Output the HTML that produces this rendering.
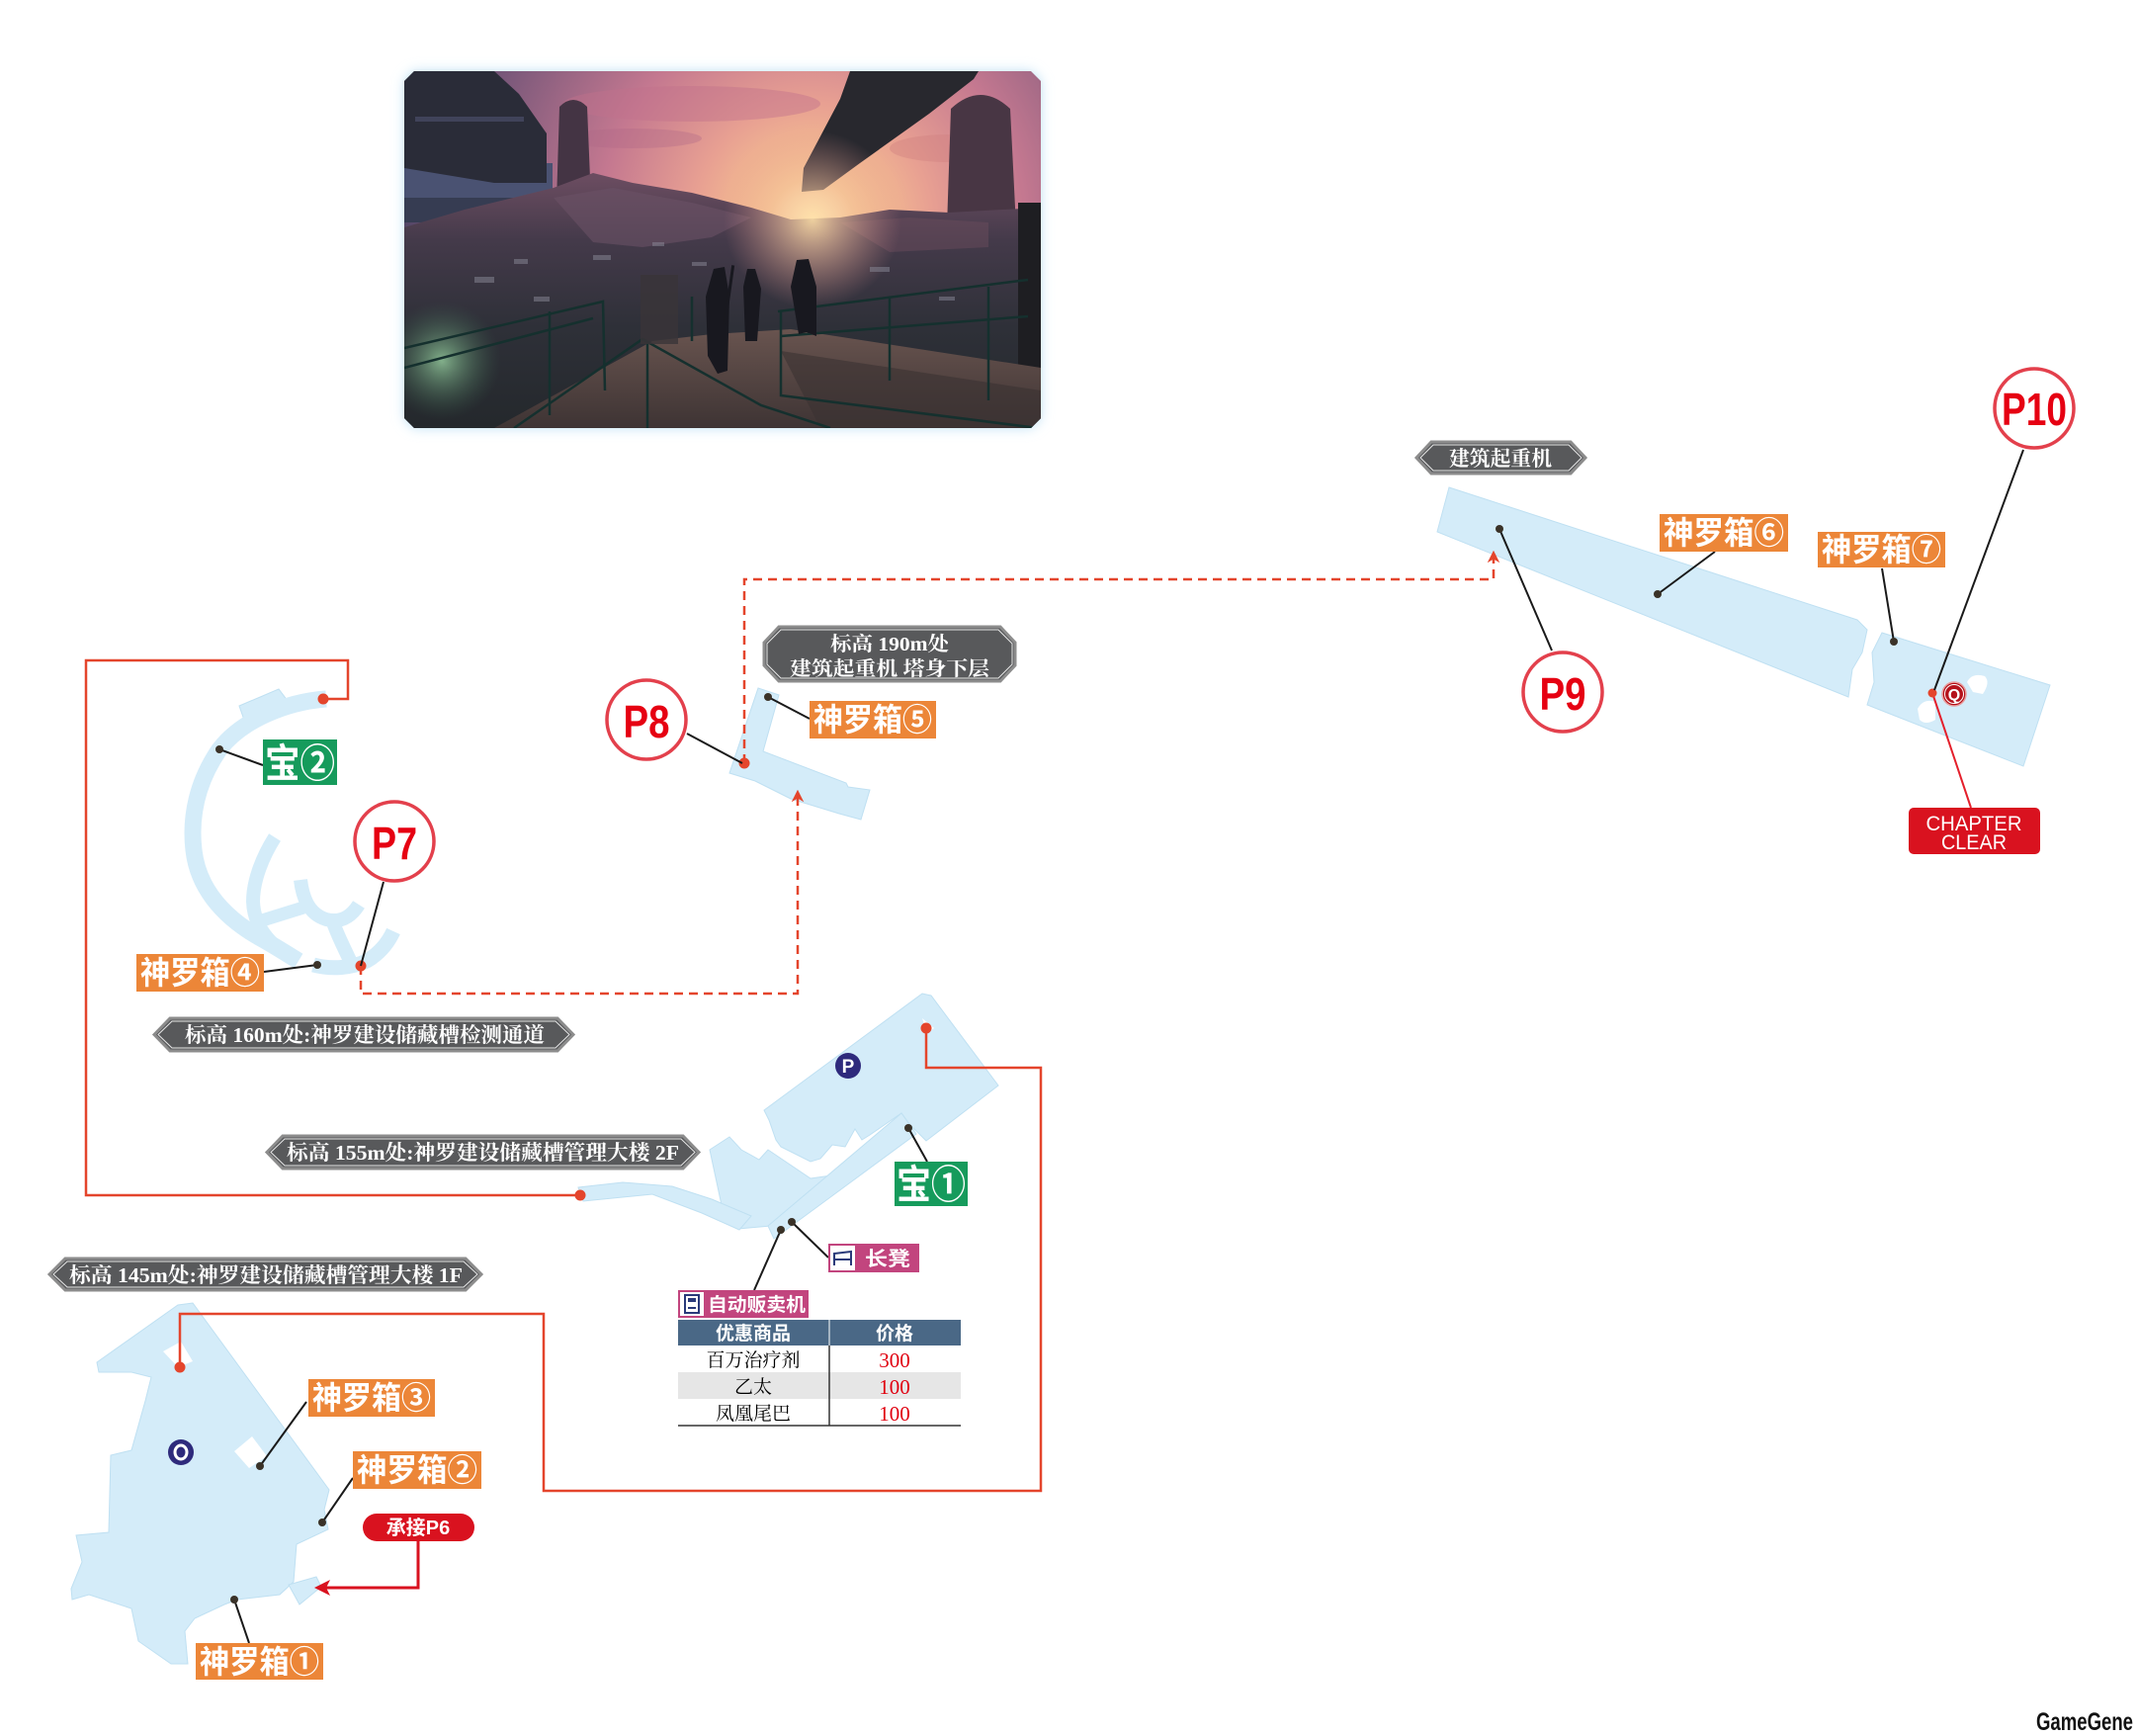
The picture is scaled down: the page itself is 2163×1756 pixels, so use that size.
<!DOCTYPE html>
<html><head><meta charset="utf-8">
<style>
html,body{margin:0;padding:0;background:#fff;}
svg{display:block;}
.sans{font-family:"Liberation Sans","Noto Sans CJK SC",sans-serif;}
.serif{font-family:"Liberation Serif","Noto Serif CJK SC",serif;}
</style></head><body>
<svg width="2163" height="1756" viewBox="0 0 2163 1756" xmlns="http://www.w3.org/2000/svg">
<defs>
  <clipPath id="pc"><polygon points="419,72 1043,72 1053,82 1053,423 1043,433 419,433 409,423 409,82"/></clipPath>
  <filter id="blur6" x="-10%" y="-10%" width="120%" height="120%"><feGaussianBlur stdDeviation="6"/></filter>
  <filter id="blur2"><feGaussianBlur stdDeviation="2"/></filter>
  <radialGradient id="sky" cx="822" cy="225" r="430" gradientUnits="userSpaceOnUse">
    <stop offset="0" stop-color="#fff2bf"/>
    <stop offset="0.1" stop-color="#f8c890"/>
    <stop offset="0.28" stop-color="#e8a092"/>
    <stop offset="0.5" stop-color="#c47890"/>
    <stop offset="0.8" stop-color="#7a587a"/>
    <stop offset="1" stop-color="#4a4262"/>
  </radialGradient>
  <linearGradient id="ground" x1="0" y1="180" x2="0" y2="433" gradientUnits="userSpaceOnUse">
    <stop offset="0" stop-color="#6a4c60"/>
    <stop offset="0.25" stop-color="#443a4a"/>
    <stop offset="0.6" stop-color="#2e3038"/>
    <stop offset="1" stop-color="#24282c"/>
  </linearGradient>
  <linearGradient id="walk" x1="0" y1="330" x2="0" y2="433" gradientUnits="userSpaceOnUse">
    <stop offset="0" stop-color="#6a5550"/>
    <stop offset="1" stop-color="#3e3434"/>
  </linearGradient>
  <radialGradient id="greenglow" cx="447" cy="365" r="60" gradientUnits="userSpaceOnUse">
    <stop offset="0" stop-color="#a8e8b0" stop-opacity="0.7"/>
    <stop offset="1" stop-color="#3a6a50" stop-opacity="0"/>
  </radialGradient>
  <radialGradient id="sunglow" cx="822" cy="222" r="90" gradientUnits="userSpaceOnUse">
    <stop offset="0" stop-color="#ffe0a8" stop-opacity="0.9"/>
    <stop offset="1" stop-color="#e09090" stop-opacity="0"/>
  </radialGradient>
  <marker id="arrR" viewBox="0 0 10 10" refX="9" refY="5" markerWidth="5" markerHeight="5" orient="auto">
    <path d="M0,0 L10,5 L0,10 L3,5 z" fill="#e4452c"/>
  </marker>
</defs>

<!-- ================= PHOTO ================= -->
<polygon points="419,72 1043,72 1053,82 1053,423 1043,433 419,433 409,423 409,82" fill="#bfe2f6" filter="url(#blur6)"/>
<g clip-path="url(#pc)">
  <rect x="409" y="72" width="644" height="361" fill="url(#sky)"/>
  <ellipse cx="700" cy="105" rx="130" ry="18" fill="#c0708c" opacity="0.45"/>
  <ellipse cx="640" cy="140" rx="70" ry="10" fill="#b06888" opacity="0.35"/>
  <ellipse cx="960" cy="150" rx="60" ry="14" fill="#d08080" opacity="0.4"/>
  <!-- left lower blue sky band -->
  <rect x="409" y="165" width="150" height="58" fill="#4a5272"/>
  <rect x="409" y="200" width="150" height="25" fill="#363c52"/>
  <!-- left structure -->
  <polygon points="409,72 500,72 525,95 553,135 553,185 500,185 409,170" fill="#2a2c38"/>
  <rect x="420" y="118" width="110" height="5" fill="#40435a"/>
  <!-- left tower -->
  <path d="M563,205 L566,108 Q580,94 594,108 L598,205 Z" fill="#443444"/>
  <!-- right tower -->
  <path d="M958,230 L962,110 Q992,82 1022,110 L1028,230 Z" fill="#483644"/>
  <!-- right crane -->
  <polygon points="860,72 990,72 985,80 940,115 870,165 833,192 811,194 813,170 850,100" fill="#28282e"/>
  <!-- rubble hill -->
  <path d="M409,230 L470,212 L560,190 L600,175 L640,185 L700,195 L760,210 L800,222 L850,220 L900,212 L960,215 L1053,210 L1053,433 L409,433 Z" fill="url(#ground)"/>
  <path d="M560,200 L620,190 L700,205 L760,220 L720,240 L650,250 L600,245 Z" fill="#6a5266" opacity="0.6"/>
  <path d="M850,225 L920,220 L1000,225 L1000,250 L900,255 Z" fill="#6a4c5c" opacity="0.5"/>
  <rect x="409" y="72" width="644" height="361" fill="url(#sunglow)"/>
  <!-- speckles -->
  <g fill="#8a8a98" opacity="0.5">
    <rect x="480" y="280" width="20" height="6"/><rect x="520" y="262" width="14" height="5"/>
    <rect x="600" y="258" width="18" height="5"/><rect x="660" y="245" width="12" height="4"/>
    <rect x="540" y="300" width="16" height="5"/><rect x="700" y="265" width="15" height="4"/>
    <rect x="880" y="270" width="20" height="5"/><rect x="950" y="300" width="16" height="4"/>
  </g>
  <!-- right edge dark -->
  <rect x="1030" y="205" width="23" height="228" fill="#1e1e22"/>
  <!-- walkway -->
  <polygon points="500,433 660,345 720,338 800,333 1053,372 1053,433" fill="url(#walk)"/>
  <polygon points="790,355 1053,395 1053,433 830,433" fill="#3a3232" opacity="0.6"/>
  <rect x="409" y="72" width="644" height="361" fill="url(#greenglow)"/>
  <!-- railings -->
  <g stroke="#15302e" stroke-width="2.5" fill="none">
    <polyline points="409,352 610,305 612,395"/>
    <polyline points="409,372 600,322"/>
    <polyline points="520,433 650,343 770,410 840,433"/>
    <polyline points="655,345 655,433"/>
    <polyline points="787,315 1040,283"/>
    <polyline points="790,315 790,400 1050,433"/>
    <polyline points="790,340 1040,320"/>
    <polyline points="900,300 900,385"/>
    <polyline points="1000,290 1000,405"/>
    <polyline points="700,300 700,345"/>
    <polyline points="556,315 556,420"/>
  </g>
  <!-- figures -->
  <g fill="#18181f">
    <path d="M714,300 L722,272 L733,270 L738,300 L736,375 L726,378 L716,360 Z"/>
    <rect x="736" y="268" width="3" height="60" transform="rotate(8 737 298)"/>
    <path d="M752,290 L756,272 L764,272 L770,292 L766,345 L754,345 Z"/>
    <path d="M800,290 L806,263 L818,262 L826,290 L826,340 L816,336 L808,338 Z"/>
  </g>
  <!-- tower pillar mid -->
  <rect x="648" y="278" width="38" height="70" fill="#3a3438" opacity="0.8"/>
</g>

<!-- ================= MAP FILLS ================= -->
<g fill="#d4ecf9" stroke="#bfe0f2" stroke-width="1">
  <polygon points="1466,493 1879,627 1889,637 1884,660 1874,677 1870,705 1454,538"/>
  <polygon points="1904,640 2074,693 2047,775 1889,713 1896,690 1894,660"/>
  <polygon points="767,696 788,703 772,760 856,792 858,796 880,799 871,829 849,823 800,808 764,790 738,782"/>
  <polygon points="773,1123 933,1005 942,1007 1010,1098 937,1154 920,1137 912,1126 880,1148 872,1153 865,1142 855,1160 842,1158 830,1172 820,1175 790,1160 785,1153 778,1133"/>
  <polygon points="718,1163 738,1150 750,1163 768,1173 777,1163 820,1192 848,1188 780,1240 747,1243 733,1233"/>
  <polygon points="777,1240 912,1126 927,1147 783,1253"/>
  <polygon points="585,1201 630,1196 680,1200 720,1213 760,1230 748,1244 710,1227 660,1208 590,1215"/>
  <polygon points="98,1378 180,1320 195,1318 333,1507 328,1527 332,1547 300,1562 297,1600 283,1613 240,1618 227,1623 197,1637 187,1650 190,1683 173,1683 140,1660 133,1627 90,1613 73,1618 72,1607 83,1580 77,1553 110,1550 112,1472 133,1467 147,1417 153,1393 133,1388 100,1388"/>
  <polygon points="292,1603 320,1595 325,1605 303,1623"/>
  <polygon points="242,714 282,697 291,709 248,731"/>
</g>
<!-- holes -->
<g fill="#fff">
  <polygon points="165,1367 183,1357 195,1377 180,1383"/>
  <polygon points="237,1468 255,1453 270,1473 252,1485"/>
  <path d="M1990,690 Q1995,680 2008,684 Q2014,690 2006,702 L1996,700 Z"/>
  <path d="M1940,717 Q1946,706 1958,710 L1958,728 Q1948,734 1942,728 Z"/>
  <polygon points="933,1030 945,1040 938,1045"/>
</g>
<!-- P7 arcs (stroked) -->
<g fill="none" stroke="#d4ecf9" stroke-linecap="butt">
  <path d="M330,707 C290,710 245,728 222,758 C200,790 192,825 196,860 C200,895 222,925 262,948 C280,958 292,966 302,972" stroke-width="17"/>
  <path d="M278,847 C266,866 256,890 256,912 C257,937 272,956 298,970" stroke-width="14"/>
  <path d="M262,932 L307,918" stroke-width="13"/>
  <path d="M304,890 C306,906 311,924 330,930 C346,934 356,926 363,915" stroke-width="14"/>
  <path d="M336,930 C341,946 350,962 356,976" stroke-width="14"/>
  <path d="M317,976 C336,981 356,979 371,972 C383,965 392,955 398,942" stroke-width="15"/>
</g>

<!-- ================= RED ROUTES ================= -->
<g fill="none" stroke="#e4452c" stroke-width="2.5">
  <polyline points="182,1383 182,1329 550,1329 550,1508 1053,1508 1053,1080 937,1080 937,1040"/>
  <polyline points="587,1209 87,1209 87,668 352,668 352,707 327,707"/>
  <polyline points="365,977 365,1005 807,1005 807,800" stroke-dasharray="9,6" marker-end="url(#arrR)"/>
  <polyline points="753,772 753,586 1511,586 1511,558" stroke-dasharray="9,6" marker-end="url(#arrR)"/>
</g>
<line x1="1955" y1="701" x2="1994" y2="817" stroke="#e4202c" stroke-width="2"/>
<polyline points="423,1559 423,1606 328,1606" fill="none" stroke="#d9121f" stroke-width="3"/>
<polygon points="318,1606 334,1598 330,1606 334,1614" fill="#d9121f"/>
<g fill="#e4452c">
  <circle cx="182" cy="1383" r="5.5"/>
  <circle cx="937" cy="1040" r="5.5"/>
  <circle cx="587" cy="1209" r="5.5"/>
  <circle cx="327" cy="707" r="5.5"/>
  <circle cx="365" cy="977" r="5.5"/>
  <circle cx="753" cy="772" r="5.5"/>
  <circle cx="1955" cy="701" r="4.5"/>
</g>

<!-- ================= CONNECTOR LINES ================= -->
<g stroke="#1a1a1a" stroke-width="2" fill="none">
  <line x1="2047" y1="455" x2="1957" y2="698"/>
  <line x1="1570" y1="658" x2="1517" y2="535"/>
  <line x1="1677" y1="601" x2="1735" y2="558"/>
  <line x1="1916" y1="649" x2="1904" y2="575"/>
  <line x1="695" y1="742" x2="751" y2="772"/>
  <line x1="777" y1="705" x2="819" y2="727"/>
  <line x1="222" y1="758" x2="266" y2="774"/>
  <line x1="388" y1="892" x2="365" y2="977"/>
  <line x1="321" y1="976" x2="267" y2="983"/>
  <line x1="919" y1="1141" x2="938" y2="1175"/>
  <line x1="801" y1="1236" x2="838" y2="1272"/>
  <line x1="790" y1="1244" x2="763" y2="1305"/>
  <line x1="263" y1="1483" x2="310" y2="1418"/>
  <line x1="326" y1="1540" x2="357" y2="1495"/>
  <line x1="237" y1="1618" x2="252" y2="1662"/>
</g>
<g fill="#3a3228">
  <circle cx="1517" cy="535" r="4"/>
  <circle cx="1677" cy="601" r="4"/>
  <circle cx="1916" cy="649" r="4"/>
  <circle cx="777" cy="705" r="4"/>
  <circle cx="222" cy="758" r="4"/>
  <circle cx="321" cy="976" r="4"/>
  <circle cx="919" cy="1141" r="4"/>
  <circle cx="801" cy="1236" r="4"/>
  <circle cx="790" cy="1244" r="4"/>
  <circle cx="263" cy="1483" r="4"/>
  <circle cx="326" cy="1540" r="4"/>
  <circle cx="237" cy="1618" r="4"/>
</g>

<!-- ================= MARKERS ================= -->
<circle cx="858" cy="1078" r="13" fill="#2e2a7c"/>
<text x="858" y="1085" text-anchor="middle" class="sans" font-size="19" font-weight="bold" fill="#fff">P</text>
<circle cx="183" cy="1469" r="13" fill="#2e2a7c"/>
<ellipse cx="183" cy="1469" rx="6" ry="7" fill="none" stroke="#fff" stroke-width="3"/>
<circle cx="1977" cy="702" r="12" fill="#b5121b" stroke="#e8a0a0" stroke-width="1.5"/>
<circle cx="1977" cy="702" r="9.5" fill="none" stroke="#fff" stroke-width="1"/>
<text x="1977" y="708" text-anchor="middle" class="sans" font-size="16" font-weight="bold" fill="#fff">Q</text>

<!-- ================= P CIRCLES ================= -->
<g fill="#fff" stroke="#e3404c" stroke-width="3.5">
  <circle cx="2058" cy="413" r="40"/>
  <circle cx="1581" cy="700" r="40"/>
  <circle cx="654" cy="728" r="40"/>
  <circle cx="399" cy="851" r="40"/>
</g>
<g class="sans" font-weight="bold" fill="#e60012" font-size="46" text-anchor="middle">
  <text x="2058" y="430" textLength="66" lengthAdjust="spacingAndGlyphs">P10</text>
  <text x="1581" y="718" textLength="47" lengthAdjust="spacingAndGlyphs">P9</text>
  <text x="654" y="746" textLength="47" lengthAdjust="spacingAndGlyphs">P8</text>
  <text x="399" y="869" textLength="46" lengthAdjust="spacingAndGlyphs">P7</text>
</g>

<!-- ================= ORANGE / GREEN LABELS ================= -->
<g fill="#ec8638">
  <rect x="198" y="1662" width="129" height="37"/>
  <rect x="357" y="1468" width="130" height="38"/>
  <rect x="312" y="1395" width="128" height="38"/>
  <rect x="138" y="965" width="129" height="38"/>
  <rect x="819" y="709" width="128" height="38"/>
  <rect x="1679" y="520" width="130" height="38"/>
  <rect x="1839" y="538" width="129" height="36"/>
</g>
<g class="sans" font-weight="bold" fill="#fff" font-size="32">
  <text x="202" y="1692" textLength="121" lengthAdjust="spacingAndGlyphs">神罗箱①</text>
  <text x="361" y="1498" textLength="122" lengthAdjust="spacingAndGlyphs">神罗箱②</text>
  <text x="316" y="1425" textLength="120" lengthAdjust="spacingAndGlyphs">神罗箱③</text>
  <text x="142" y="995" textLength="121" lengthAdjust="spacingAndGlyphs">神罗箱④</text>
  <text x="823" y="739" textLength="120" lengthAdjust="spacingAndGlyphs">神罗箱⑤</text>
  <text x="1683" y="550" textLength="122" lengthAdjust="spacingAndGlyphs">神罗箱⑥</text>
  <text x="1843" y="567" textLength="121" lengthAdjust="spacingAndGlyphs">神罗箱⑦</text>
</g>
<rect x="266" y="748" width="75" height="46" fill="#169b5c"/>
<rect x="905" y="1175" width="74" height="45" fill="#169b5c"/>
<g class="sans" font-weight="bold" fill="#fff" font-size="40">
  <text x="268" y="786" textLength="71" lengthAdjust="spacingAndGlyphs">宝②</text>
  <text x="907" y="1212" textLength="70" lengthAdjust="spacingAndGlyphs">宝①</text>
</g>

<!-- ================= GRAY HEX LABELS ================= -->
<g fill="#58595b" stroke="#8c8c8c" stroke-width="3">
  <polygon points="156,1046.5 172,1030 564,1030 580,1046.5 564,1063 172,1063"/>
  <polygon points="270,1165.5 286,1149 691,1149 707,1165.5 691,1182 286,1182"/>
  <polygon points="50,1289 66,1273 471,1273 487,1289 471,1305 66,1305"/>
  <polygon points="1433,463 1448,447 1589,447 1604,463 1589,479 1448,479"/>
  <polygon points="773,650 788,634 1012,634 1027,650 1027,673 1012,689 788,689 773,673"/>
</g>
<g fill="none" stroke="#e6e6e6" stroke-width="1">
  <polygon points="160,1046.5 174,1033 562,1033 576,1046.5 562,1060 174,1060"/>
  <polygon points="274,1165.5 288,1152 689,1152 703,1165.5 689,1179 288,1179"/>
  <polygon points="54,1289 68,1276 469,1276 483,1289 469,1302 68,1302"/>
  <polygon points="1437,463 1450,450 1587,450 1600,463 1587,476 1450,476"/>
  <polygon points="776,651 790,637 1010,637 1024,651 1024,672 1010,686 790,686 776,672"/>
</g>
<g class="serif" fill="#fff" font-size="21" font-weight="bold">
  <text x="187" y="1054" textLength="364" lengthAdjust="spacingAndGlyphs">标高 160m处:神罗建设储藏槽检测通道</text>
  <text x="290" y="1173" textLength="397" lengthAdjust="spacingAndGlyphs">标高 155m处:神罗建设储藏槽管理大楼 2F</text>
  <text x="70" y="1297" textLength="398" lengthAdjust="spacingAndGlyphs">标高 145m处:神罗建设储藏槽管理大楼 1F</text>
  <text x="1466" y="471" textLength="104" lengthAdjust="spacingAndGlyphs">建筑起重机</text>
  <text x="840" y="658" textLength="120" lengthAdjust="spacingAndGlyphs" font-size="20">标高 190m处</text>
  <text x="799" y="683" textLength="202" lengthAdjust="spacingAndGlyphs" font-size="20">建筑起重机 塔身下层</text>
</g>

<!-- ================= MAGENTA TAGS / TABLE ================= -->
<rect x="838" y="1258" width="92" height="29" fill="#c2457e"/>
<rect x="840" y="1260" width="25" height="25" fill="#fff"/>
<g fill="none" stroke="#2a3a7a" stroke-width="2">
  <path d="M844,1280 L844,1268 L861,1266 L861,1280 M844,1274 L861,1274"/>
</g>
<text x="875" y="1280" class="sans" font-weight="bold" font-size="20" fill="#fff" textLength="46" lengthAdjust="spacingAndGlyphs">长凳</text>

<rect x="686" y="1305" width="132" height="28" fill="#c2457e"/>
<rect x="688" y="1307" width="24" height="24" fill="#fff"/>
<rect x="693" y="1310" width="14" height="18" fill="none" stroke="#2a3a7a" stroke-width="2"/>
<rect x="696" y="1313" width="8" height="4" fill="#2a3a7a"/>
<line x1="696" y1="1323" x2="704" y2="1323" stroke="#2a3a7a" stroke-width="2"/>
<text x="716" y="1326" class="sans" font-weight="bold" font-size="19" fill="#fff" textLength="99" lengthAdjust="spacingAndGlyphs">自动贩卖机</text>

<rect x="686" y="1335" width="286" height="26" fill="#4a6886"/>
<line x1="839" y1="1335" x2="839" y2="1361" stroke="#fff" stroke-width="1"/>
<rect x="686" y="1388" width="286" height="27" fill="#e6e6e6"/>
<line x1="839" y1="1361" x2="839" y2="1442" stroke="#333" stroke-width="1.5"/>
<line x1="686" y1="1442" x2="972" y2="1442" stroke="#333" stroke-width="1.5"/>
<g class="sans" font-weight="bold" font-size="19" fill="#fff" text-anchor="middle">
  <text x="762" y="1355">优惠商品</text>
  <text x="905" y="1355">价格</text>
</g>
<g class="serif" font-size="19" fill="#000" text-anchor="middle">
  <text x="762" y="1382">百万治疗剂</text>
  <text x="762" y="1409">乙太</text>
  <text x="762" y="1436">凤凰尾巴</text>
</g>
<g class="serif" font-size="21" fill="#e00010" text-anchor="middle">
  <text x="905" y="1383">300</text>
  <text x="905" y="1410">100</text>
  <text x="905" y="1437">100</text>
</g>

<!-- ================= RED TAGS ================= -->
<rect x="367" y="1531" width="113" height="28" rx="14" fill="#d9121f"/>
<text x="423" y="1552" text-anchor="middle" class="sans" font-weight="bold" font-size="20" fill="#fff">承接P6</text>

<rect x="1931" y="817" width="133" height="47" rx="5" fill="#d9121f"/>
<g class="sans" fill="#fff" font-size="21" text-anchor="middle">
  <text x="1997" y="840" textLength="97" lengthAdjust="spacingAndGlyphs">CHAPTER</text>
  <text x="1997" y="859" textLength="66" lengthAdjust="spacingAndGlyphs">CLEAR</text>
</g>

<text x="2060" y="1750" font-family="'Liberation Sans Narrow','Liberation Sans',sans-serif" font-weight="bold" font-size="25" fill="#111" textLength="98" lengthAdjust="spacingAndGlyphs">GameGene</text>
</svg>
</body></html>
